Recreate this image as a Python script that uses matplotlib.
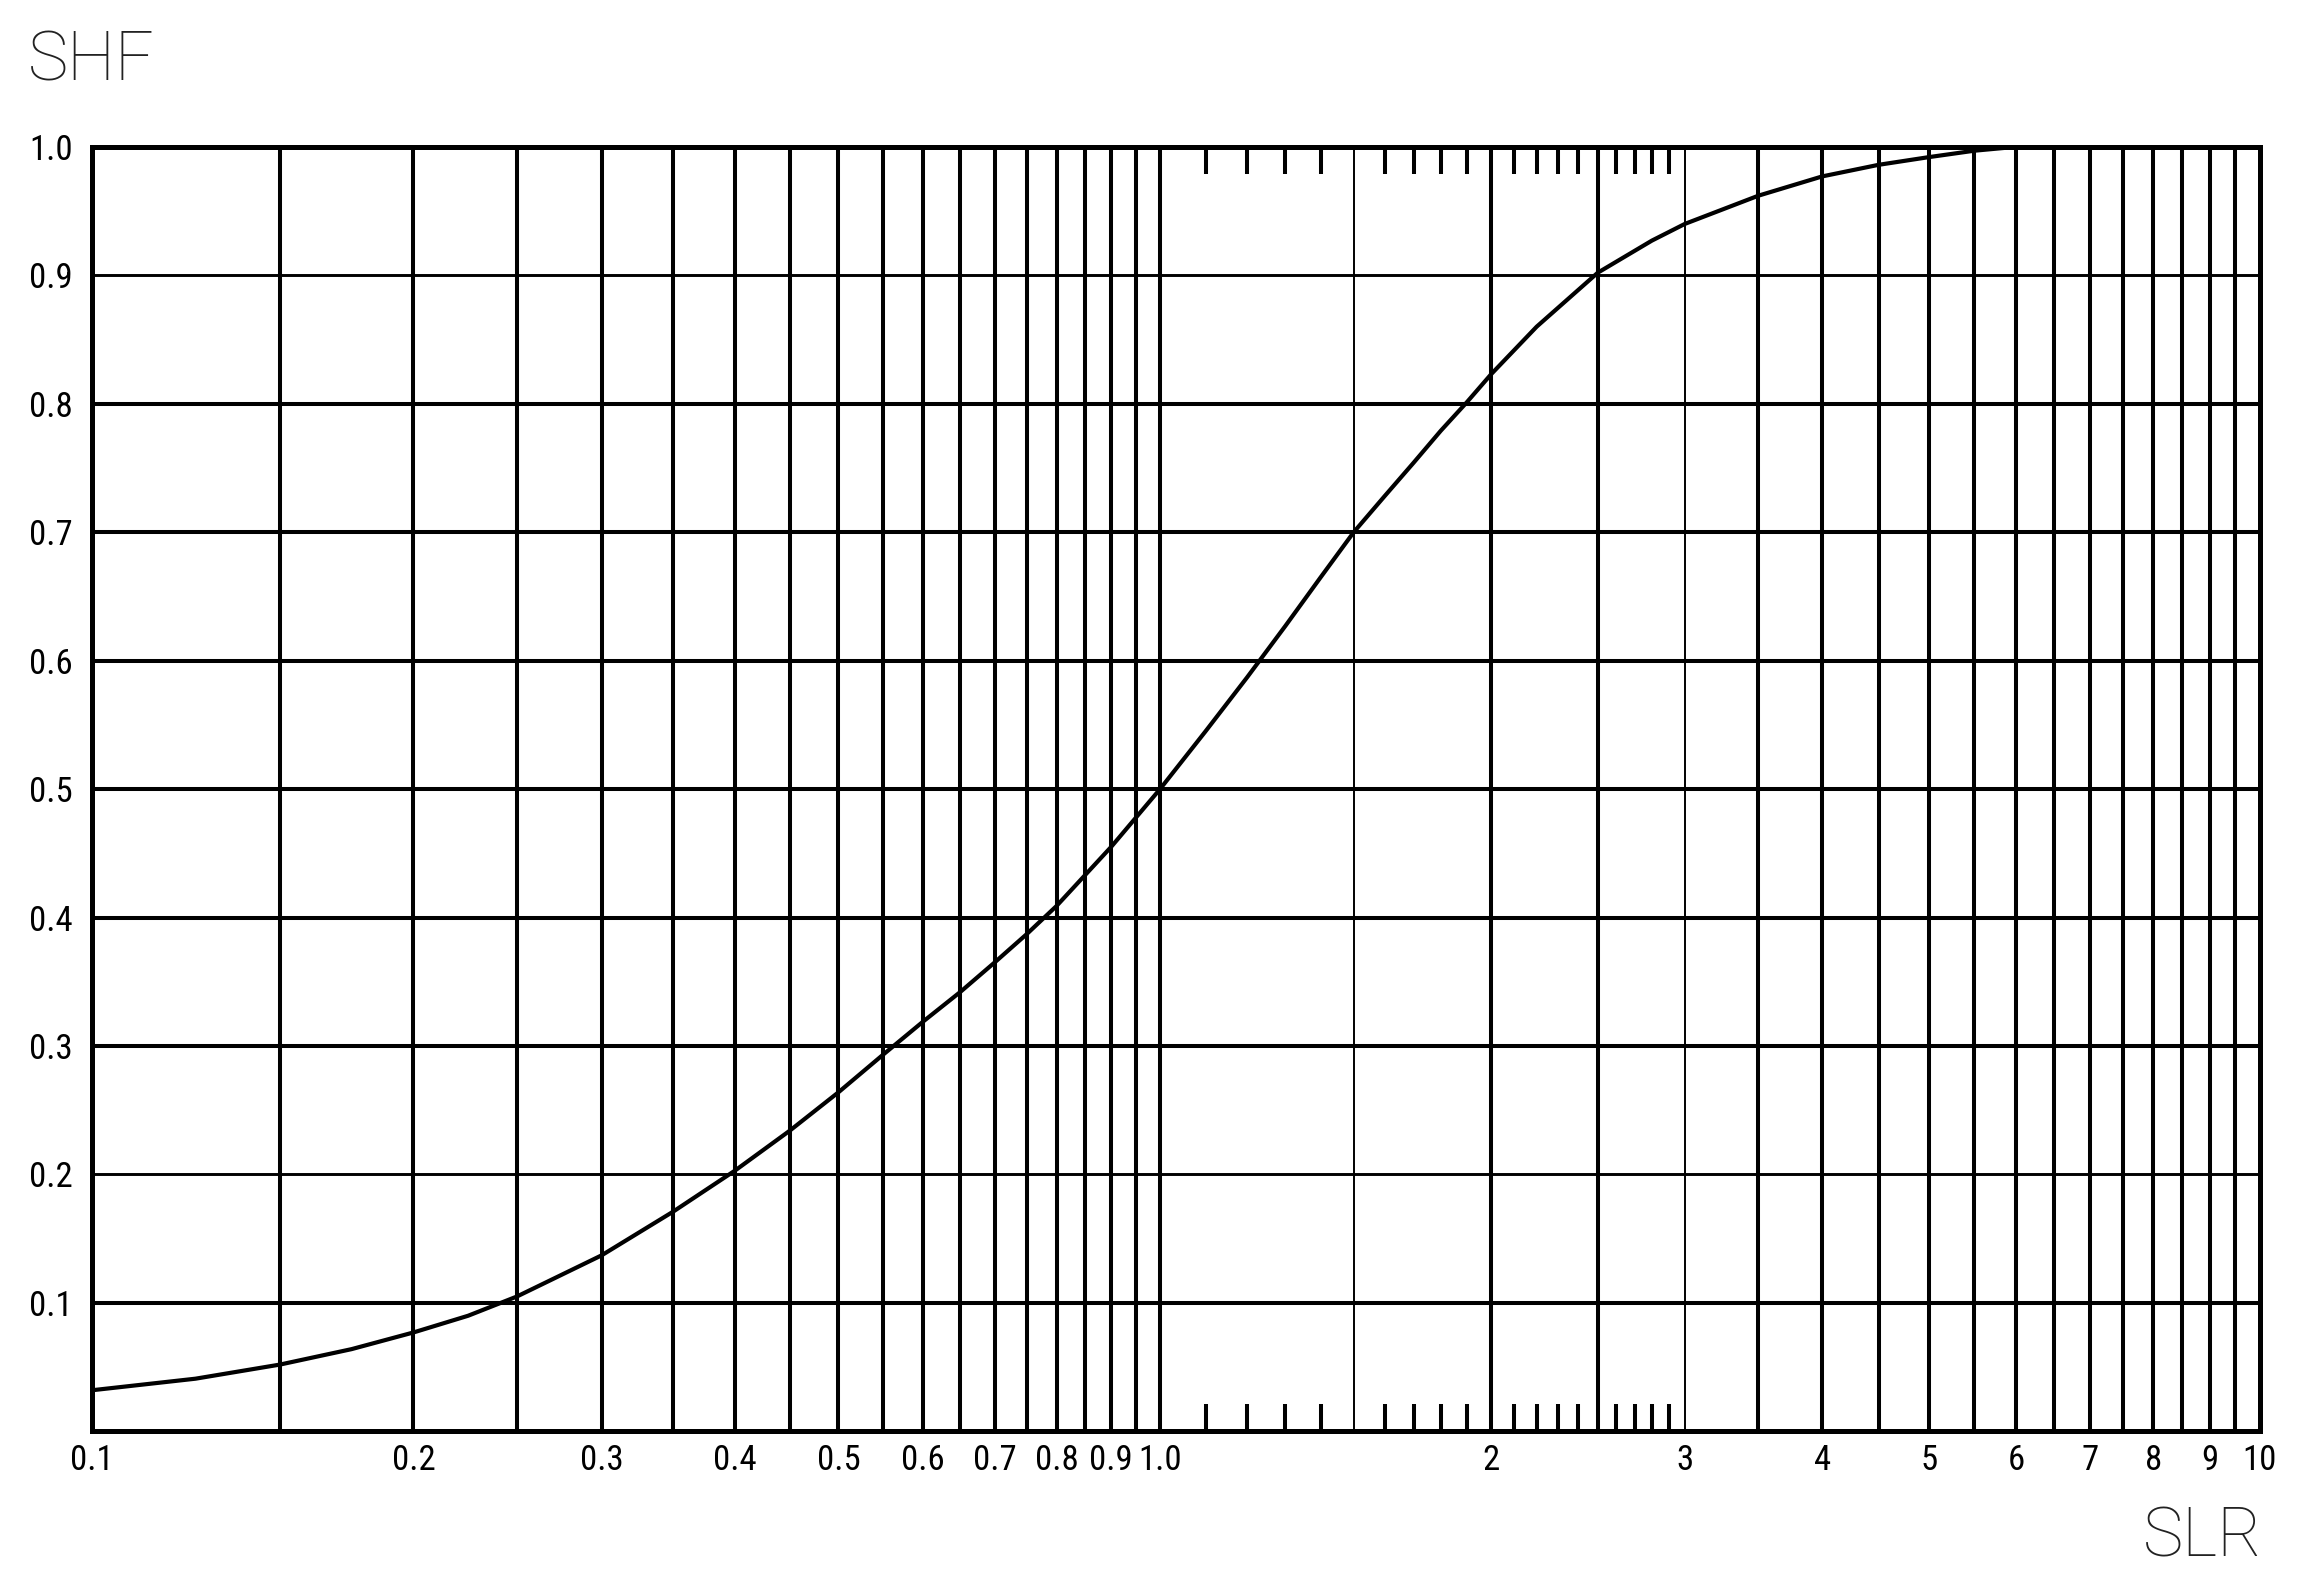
import numpy as np
import matplotlib
matplotlib.use("Agg")
from matplotlib import pyplot as plt
from matplotlib import font_manager
from matplotlib.ticker import FixedLocator, NullLocator

# curve
slr = [0.1, 0.125, 0.15, 0.175, 0.2, 0.225, 0.25, 0.3, 0.35, 0.4, 0.45, 0.5,
       0.55, 0.6, 0.65, 0.7, 0.75, 0.8, 0.9, 1.0, 1.1, 1.2, 1.3, 1.4, 1.5,
       1.6, 1.7, 1.8, 1.9, 2.0, 2.2, 2.5, 2.8, 3.0, 3.5, 4.0, 4.5, 5.0, 5.5,
       6.0]
shf = [0.032, 0.041, 0.052, 0.064, 0.077, 0.090, 0.105, 0.137, 0.171, 0.203,
       0.234, 0.264, 0.293, 0.319, 0.342, 0.365, 0.387, 0.409, 0.455, 0.500,
       0.545, 0.587, 0.627, 0.665, 0.700, 0.728, 0.754, 0.779, 0.801, 0.823,
       0.860, 0.902, 0.927, 0.940, 0.962, 0.977, 0.986, 0.992, 0.997, 1.000]

# grid lines and ticks
grid_thick = [0.15, 0.2, 0.25, 0.3, 0.35, 0.4, 0.45, 0.5, 0.55, 0.6, 0.65,
              0.7, 0.75, 0.8, 0.85, 0.9, 0.95, 1.0, 2.0, 2.5, 3.5, 4.0, 4.5,
              5.0, 5.5, 6.0, 6.5, 7.0, 7.5, 8.0, 8.5, 9.0, 9.5]
grid_thin = [1.5, 3.0]
short_ticks = [1.1, 1.2, 1.3, 1.4, 1.6, 1.7, 1.8, 1.9,
               2.1, 2.2, 2.3, 2.4, 2.6, 2.7, 2.8, 2.9]
hgrid_thick = [0.1, 0.3, 0.4, 0.5, 0.6, 0.7, 0.8]
hgrid_thin = [0.2, 0.9]

xticks = [0.1, 0.2, 0.3, 0.4, 0.5, 0.6, 0.7, 0.8, 0.9, 1.0,
          2, 3, 4, 5, 6, 7, 8, 9, 10]
xlabels = ["0.1", "0.2", "0.3", "0.4", "0.5", "0.6", "0.7", "0.8", "0.9", "1.0",
           "2", "3", "4", "5", "6", "7", "8", "9", "10"]
yticks = [0.1, 0.2, 0.3, 0.4, 0.5, 0.6, 0.7, 0.8, 0.9, 1.0]
ylabels = ["0.1", "0.2", "0.3", "0.4", "0.5", "0.6", "0.7", "0.8", "0.9", "1.0"]

# the lower decade is drawn a little narrower than the upper one
LOW = 0.971


def fwd(x):
    lx = np.log10(np.clip(x, 1e-6, None))
    return np.where(lx < 0, lx * LOW, lx)


def inv(p):
    p = np.asarray(p, dtype=float)
    return np.where(p < 0, 10 ** (p / LOW), 10 ** p)


installed = {f.name for f in font_manager.fontManager.ttflist}
narrow = [n for n in ["Liberation Sans Narrow", "Roboto Condensed"] if n in installed]
tick_font = dict(family=narrow + ["DejaVu Sans"], size=25,
                 stretch="condensed")
label_font = dict(family=["Roboto", "DejaVu Sans"], weight="light", size=49,
                  color="#222222")

fig = plt.figure(figsize=(23.04, 15.79), dpi=100)
ax = fig.add_axes([0.0399, 0.0935, 0.9410, 0.8135])
ax.set_xscale("function", functions=(fwd, inv))
ax.set_xlim(0.1, 10)
ax.set_ylim(0, 1.0)

lw = 2.9
ax.vlines(grid_thick, 0, 1, colors="black", linewidth=lw, zorder=1)
ax.vlines(grid_thin, 0, 1, colors="black", linewidth=1.4, zorder=1)
ax.hlines(hgrid_thick, 0.1, 10, colors="black", linewidth=lw, zorder=1)
ax.hlines(hgrid_thin, 0.1, 10, colors="black", linewidth=2.1, zorder=1)

trans = ax.get_xaxis_transform()
ax.vlines(short_ticks, 0, 0.021, colors="black", linewidth=lw, transform=trans)
ax.vlines(short_ticks, 0.979, 1, colors="black", linewidth=lw, transform=trans)

ax.plot(slr, shf, color="black", linewidth=3.0, zorder=3,
        solid_joinstyle="round")

for s in ax.spines.values():
    s.set_linewidth(3.6)

ax.xaxis.set_major_locator(FixedLocator(xticks))
ax.xaxis.set_minor_locator(NullLocator())
ax.set_xticklabels(xlabels, **tick_font)
ax.yaxis.set_major_locator(FixedLocator(yticks))
ax.yaxis.set_minor_locator(NullLocator())
ax.set_yticklabels(ylabels, **tick_font)
ax.tick_params(axis="both", length=0)
ax.tick_params(axis="x", pad=9)
ax.tick_params(axis="y", pad=14)

fig.text(0.012, 0.949, "SHF", ha="left", va="baseline", **label_font)
fig.text(0.982, 0.014, "SLR", ha="right", va="baseline", **label_font)

fig.savefig("out.png", dpi=100)
